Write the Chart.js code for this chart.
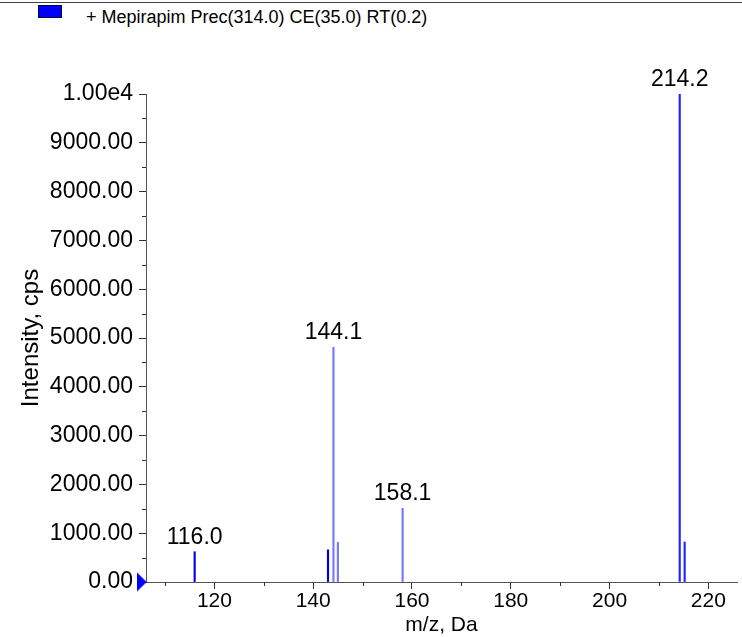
<!DOCTYPE html>
<html>
<head>
<meta charset="utf-8">
<script src="https://cdn.jsdelivr.net/npm/chart.js@4.4.1/dist/chart.umd.min.js"></script>
<style>
  body { margin: 0; background: #fff; }
  #wrap { position: relative; width: 742px; height: 637px; overflow: hidden; font-family: "Liberation Sans", Arial, sans-serif; }
  #topline { position: absolute; left: 0; top: 2px; width: 742px; height: 0; border-top: 1px solid #444; }
  #legend { position: absolute; left: 38px; top: 8px; font-size: 18px; line-height: 18px; color: #000; white-space: nowrap; }
  #legend .box { display: inline-block; width: 22px; height: 11px; background: #0000ff; border: 1px solid #000044; vertical-align: top; margin-top: -3px; margin-right: 24px; }
  #chart { position: absolute; left: 0; top: 0; }
</style>
</head>
<body>
<div id="wrap">
  <div id="topline"></div>
  <div id="legend"><span class="box"></span>+ Mepirapim Prec(314.0) CE(35.0) RT(0.2)</div>
  <canvas id="chart" width="742" height="637"></canvas>
</div>
<script>
// peak list
const mz = [116.0, 143.0, 144.1, 145.0, 158.1, 214.2, 215.2];
const intensity = [620, 660, 4810, 810, 1510, 10000, 820];
const peakLabels = ['116.0', '', '144.1', '', '158.1', '214.2', ''];
const peakColors = ['#0000e6', '#0000e6', '#7777ff', '#7777ff', '#7777ff', '#2222ff', '#2222ff'];

const xMin = 106.15;
const xMax = 225.8;
const xTicks = [120, 140, 160, 180, 200, 220];
const xMinorTicks = [110, 130, 150, 170, 190, 210];
const yTicks = [0, 1000, 2000, 3000, 4000, 5000, 6000, 7000, 8000, 9000, 10000];
const yTickLabels = ['0.00', '1000.00', '2000.00', '3000.00', '4000.00', '5000.00', '6000.00', '7000.00', '8000.00', '9000.00', '1.00e4'];
const yMinorTicks = [500, 1500, 2500, 3500, 4500, 5500, 6500, 7500, 8500, 9500];

const FONT = "'Liberation Sans', Arial, sans-serif";

// narrow blue arrow that marks the origin on the y axis
const arrow = document.createElement('canvas');
arrow.width = 10;
arrow.height = 20;
const actx = arrow.getContext('2d');
actx.fillStyle = '#0000ff';
actx.beginPath();
actx.moveTo(0, 0);
actx.lineTo(10, 10);
actx.lineTo(0, 20);
actx.closePath();
actx.fill();

// labels over the peaks + the short minor ticks
const peakLabelPlugin = {
    id: 'peakLabels',
    afterDraw(chart) {
        const ctx = chart.ctx;
        const xs = chart.scales.x, ys = chart.scales.y;
        ctx.save();
        ctx.strokeStyle = '#333';
        ctx.lineWidth = 1;
        ctx.beginPath();
        yMinorTicks.forEach(v => {
            const y = Math.round(ys.getPixelForValue(v)) + 0.5;
            ctx.moveTo(xs.left - 4, y);
            ctx.lineTo(xs.left, y);
        });
        xMinorTicks.forEach(v => {
            const x = Math.round(xs.getPixelForValue(v)) + 0.5;
            ctx.moveTo(x, ys.bottom);
            ctx.lineTo(x, ys.bottom + 4);
        });
        ctx.stroke();

        ctx.fillStyle = '#000';
        ctx.font = '23px ' + FONT;
        ctx.textAlign = 'center';
        ctx.textBaseline = 'bottom';
        mz.forEach((m, i) => {
            if (!peakLabels[i]) return;
            ctx.fillText(peakLabels[i], xs.getPixelForValue(m), ys.getPixelForValue(intensity[i]) - 3);
        });
        ctx.restore();
    }
};

const ctx = document.getElementById('chart');
new Chart(ctx, {
    data: {
        datasets: [
            {
                type: 'bar',
                label: 'spectrum',
                data: mz.map((m, i) => ({ x: m, y: intensity[i] })),
                backgroundColor: peakColors,
                borderWidth: 0,
                barThickness: 1.5,
            },
            {
                type: 'scatter',
                label: 'origin',
                data: [{ x: xMin - 0.9, y: 0 }],
                pointStyle: arrow,
                clip: false,
            }
        ]
    },
    options: {
        responsive: false,
        animation: false,
        layout: { padding: { top: 94, right: 0, bottom: 0, left: 0 } },
        plugins: {
            legend: { display: false },
            tooltip: { enabled: false },
        },
        scales: {
            x: {
                type: 'linear',
                offset: false,
                min: xMin,
                max: xMax,
                afterBuildTicks: (scale) => { scale.ticks = xTicks.map(v => ({ value: v })); },
                afterFit: (scale) => { scale.height = 55; },
                ticks: {
                    color: '#000',
                    font: { family: FONT, size: 21 },
                    padding: 0,
                    maxRotation: 0,
                    callback: (v) => String(v),
                },
                grid: { drawOnChartArea: false, drawTicks: true, tickLength: 7, tickColor: '#333', offset: false },
                border: { display: true, color: '#555', width: 1 },
                title: {
                    display: true,
                    text: 'm/z, Da',
                    color: '#000',
                    font: { family: FONT, size: 21 },
                    padding: { top: 0, bottom: -1 },
                },
            },
            y: {
                type: 'linear',
                min: 0,
                max: 10000,
                afterBuildTicks: (scale) => { scale.ticks = yTicks.map(v => ({ value: v })); },
                afterFit: (scale) => { scale.width = 146; },
                ticks: {
                    color: '#000',
                    font: { family: FONT, size: 23 },
                    padding: 6,
                    callback: (v, i) => yTickLabels[i],
                },
                grid: { drawOnChartArea: false, drawTicks: true, tickLength: 7, tickColor: '#333' },
                border: { display: true, color: '#555', width: 1 },
                title: {
                    display: true,
                    text: 'Intensity, cps',
                    color: '#000',
                    font: { family: FONT, size: 24 },
                    padding: { top: 17, bottom: 0 },
                },
            }
        }
    },
    plugins: [peakLabelPlugin]
});
</script>
</body>
</html>
